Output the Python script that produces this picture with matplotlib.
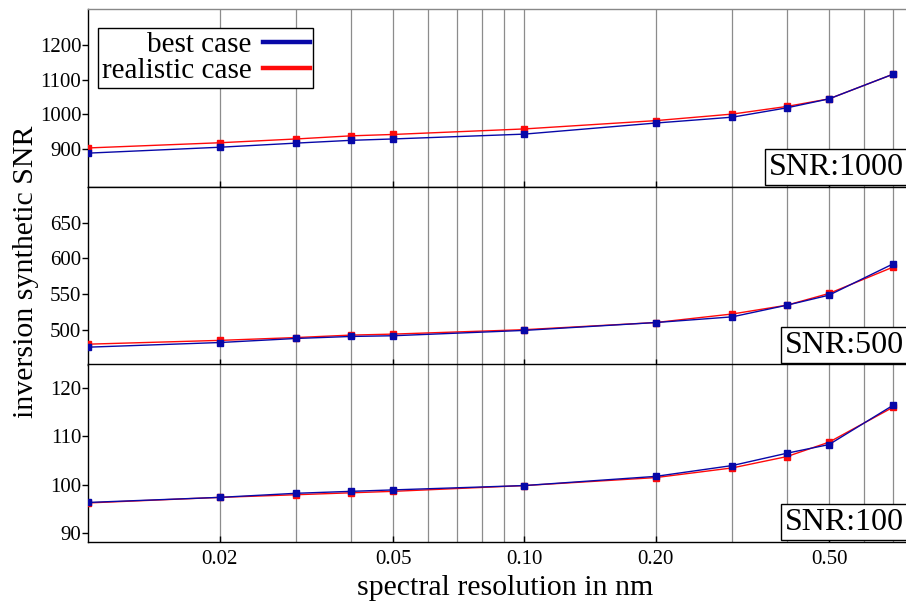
import matplotlib
matplotlib.use("Agg")
import matplotlib.pyplot as plt
from matplotlib.lines import Line2D
from matplotlib.ticker import FixedLocator, NullFormatter

plt.rcParams["font.family"] = ["Liberation Serif", "DejaVu Serif"]

resolution = [0.01, 0.02, 0.03, 0.04, 0.05, 0.10, 0.20, 0.30, 0.40, 0.50, 0.70]

best_1000 = [888, 905, 917, 925, 929, 943, 975, 992, 1019, 1045, 1116]
real_1000 = [903, 918, 929, 938, 942, 958, 982, 1001, 1023, 1045, 1116]

best_500 = [475.5, 482, 487.7, 490.5, 491.5, 499, 510, 518, 534.3, 548.4, 592]
real_500 = [479.7, 485, 489, 492.4, 493.8, 500, 510, 522, 534.3, 550.8, 587.5]

best_100 = [96.3, 97.35, 98.2, 98.6, 98.9, 99.8, 101.7, 103.95, 106.5, 108.3, 116.4]
real_100 = [96.2, 97.35, 97.9, 98.3, 98.6, 99.8, 101.45, 103.46, 105.8, 108.8, 116.0]

panels = [
    ("SNR:1000", best_1000, real_1000, (790, 1305), [900, 1000, 1100, 1200]),
    ("SNR:500", best_500, real_500, (450.5, 700), [500, 550, 600, 650]),
    ("SNR:100", best_100, real_100, (88.1, 125), [90, 100, 110, 120]),
]

major_x = [0.02, 0.05, 0.10, 0.20, 0.50]
major_labels = ["0.02", "0.05", "0.10", "0.20", "0.50"]
minor_x = [0.03, 0.04, 0.06, 0.07, 0.08, 0.09, 0.3, 0.4, 0.6, 0.7]

BLUE = "#0808A8"
RED = "#FF0A0A"

W, H = 906, 608
fig = plt.figure(figsize=(W / 100, H / 100), dpi=100)

# panel frame in pixels; the right edge runs past the figure like the original
left_px, right_px = 88.3, 922
tops = [9, 187, 364]
panel_h = 178

axes = []
for i, (tag, best, real, ylim, yticks) in enumerate(panels):
    top = tops[i]
    ax = fig.add_axes([left_px / W, 1 - (top + panel_h) / H,
                       (right_px - left_px) / W, panel_h / H])
    ax.set_xscale("log")
    ax.set_xlim(0.01, 0.817)
    ax.set_ylim(*ylim)

    ax.plot(resolution, real, color=RED, lw=1.0, marker="s", ms=3.8, zorder=3)
    ax.plot(resolution, best, color=BLUE, lw=1.0, marker="s", ms=3.8, zorder=4)

    ax.xaxis.set_major_locator(FixedLocator(major_x))
    ax.xaxis.set_minor_locator(FixedLocator(minor_x))
    ax.xaxis.set_minor_formatter(NullFormatter())
    ax.grid(True, axis="x", which="both", color="#8c8c8c", lw=0.9, zorder=1)
    ax.tick_params(axis="x", which="major", direction="in", length=4,
                   width=1, pad=6, labelsize=15)
    ax.tick_params(axis="x", which="minor", length=0)
    if i < 2:
        ax.tick_params(axis="x", labelbottom=False)
    else:
        ax.set_xticklabels(major_labels)

    ax.set_yticks(yticks)
    ax.tick_params(axis="y", direction="out", length=4, width=1, pad=1,
                   labelsize=15)
    for s in ax.spines.values():
        s.set_linewidth(1.0)
    if i == 0:
        ax.spines["top"].set_color("#888888")

    # tag box sits in the lower right corner, kept just inside the figure
    ax.text((904 - left_px) / (right_px - left_px), 0.03, tag,
            transform=ax.transAxes, ha="right", va="bottom", fontsize=23,
            bbox=dict(boxstyle="square,pad=0.12", fc="white", ec="black",
                      lw=1.0), zorder=6)
    axes.append(ax)

leg_handles = [Line2D([], [], color=BLUE, lw=3.2),
               Line2D([], [], color=RED, lw=3.2)]
leg = axes[0].legend(leg_handles, ["best case", "realistic case"],
                     loc="upper left", bbox_to_anchor=(0.012, 0.893),
                     markerfirst=False, fontsize=21, frameon=True,
                     fancybox=False, edgecolor="black", framealpha=1,
                     borderpad=0.12, labelspacing=0.0, handlelength=1.6,
                     handletextpad=0.4, borderaxespad=0)
leg.get_frame().set_linewidth(1.0)

axes[2].set_xlabel("spectral resolution in nm", fontsize=21.5, labelpad=4)
fig.text(26 / W, 1 - 272 / H, "inversion synthetic SNR", rotation=90,
         ha="center", va="center", fontsize=21.5)

fig.savefig("out.png", dpi=100)
